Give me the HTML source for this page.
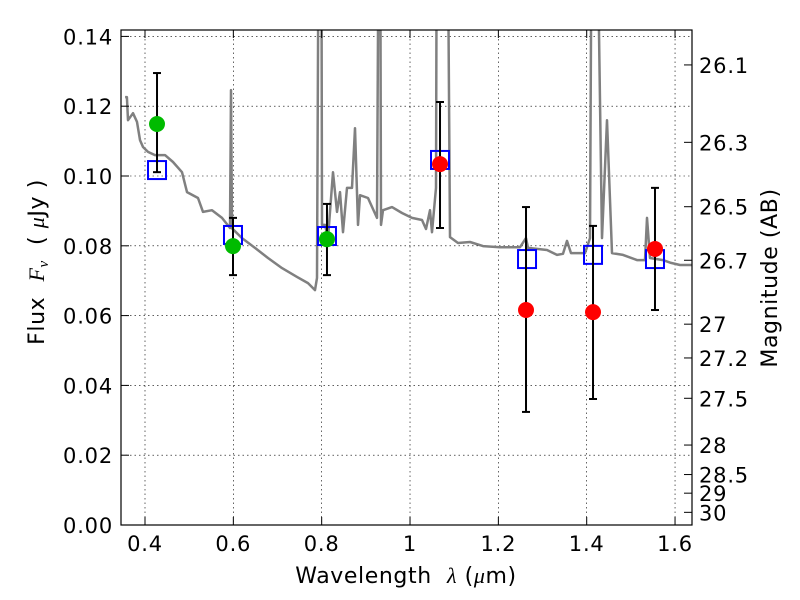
<!DOCTYPE html>
<html><head><meta charset="utf-8"><style>
html,body{margin:0;padding:0;background:#fff;}
svg{display:block;font-family:"DejaVu Sans","Liberation Sans",sans-serif;}
text{white-space:pre;}
</style></head><body>
<svg id="chart" width="800" height="600" viewBox="0 0 800 600">
<defs><clipPath id="pc"><rect x="121" y="30" width="571" height="495"/></clipPath></defs>
<rect x="0" y="0" width="800" height="600" fill="#fff"/>
<g id="grid"></g>
<g id="spec" clip-path="url(#pc)"></g>
<g id="marks" clip-path="url(#pc)"></g>
<rect x="121" y="30" width="571" height="495" fill="none" stroke="#000" stroke-width="1.2"/>
<g id="axes"></g>
<text x="406" y="583" font-size="22" letter-spacing="0.6" text-anchor="middle">Wavelength  <tspan font-family="Liberation Serif,serif" font-style="italic">λ</tspan> (<tspan font-family="Liberation Serif,serif" font-style="italic">μ</tspan>m)</text>
<text transform="translate(44,262) rotate(-90)" font-size="22" letter-spacing="0.6" text-anchor="middle">Flux  <tspan font-family="Liberation Serif,serif" font-style="italic">F<tspan font-size="15" dy="4">ν</tspan></tspan><tspan dy="-4">  ( </tspan><tspan font-family="Liberation Serif,serif" font-style="italic">μ</tspan>Jy )</text>
<text transform="translate(777,278) rotate(-90)" font-size="22" letter-spacing="0.6" text-anchor="middle">Magnitude (AB)</text>
</svg>
<script>
const specWl=[0.355,0.359,0.3615,0.3728,0.3819,0.3887,0.3955,0.4068,0.4226,0.4453,0.4634,0.4838,0.4951,0.52,0.5313,0.5517,0.5743,0.5924,0.5947,0.597,0.6196,0.649,0.6785,0.7102,0.7441,0.769,0.7849,0.7894,0.7939,0.799,0.8007,0.8075,0.8143,0.8256,0.8347,0.8415,0.8483,0.8573,0.8686,0.8754,0.8822,0.8868,0.9049,0.9253,0.93,0.932,0.9343,0.9388,0.9592,0.9818,1.0045,1.0271,1.0362,1.0453,1.0498,1.0589,1.061,1.084,1.0906,1.1087,1.1358,1.1652,1.2037,1.249,1.2626,1.2671,1.3101,1.3328,1.3464,1.3554,1.3645,1.3962,1.4075,1.412,1.421,1.4347,1.446,1.4573,1.4822,1.5139,1.532,1.5365,1.5433,1.5728,1.5909,1.6113,1.638];
const specFlux=[0.1226,0.1226,0.116,0.118,0.1155,0.1103,0.1083,0.1069,0.106,0.106,0.104,0.1011,0.0954,0.0937,0.0897,0.0902,0.088,0.0851,0.1246,0.085,0.0822,0.0794,0.0765,0.0736,0.0711,0.0693,0.0673,0.0708,0.2,0.2,0.086,0.086,0.0822,0.1011,0.0897,0.0954,0.0839,0.0966,0.0966,0.1137,0.086,0.0945,0.0937,0.088,0.2,0.2,0.086,0.0902,0.0911,0.0894,0.088,0.0874,0.0848,0.0902,0.0839,0.0966,0.2,0.2,0.0825,0.0808,0.0811,0.0799,0.0796,0.0796,0.0822,0.0794,0.0788,0.0774,0.0777,0.0814,0.0779,0.0779,0.0822,0.2,0.2,0.0822,0.116,0.0779,0.0774,0.0759,0.0759,0.088,0.0765,0.0759,0.0751,0.0745,0.0745];
const modelWl=[0.4272,0.5992,0.812,1.0679,1.2649,1.4143,1.5546];
const modelFlux=[0.1017,0.0831,0.0828,0.1046,0.0762,0.0774,0.0762];
const greenWl=[0.4272,0.5992,0.812];
const greenFlux=[0.1149,0.0799,0.0819];
const greenLo=[0.1011,0.0716,0.0716];
const greenHi=[0.1295,0.088,0.092];
const redWl=[1.0679,1.2626,1.4143,1.5546];
const redFlux=[0.1034,0.0616,0.061,0.0791];
const redLo=[0.0851,0.0324,0.0361,0.0616];
const redHi=[0.1212,0.0911,0.0857,0.0966];
const xTicks=[0.4,0.6,0.8,1.0,1.2,1.4,1.6];
const xTickLabels=["0.4","0.6","0.8","1","1.2","1.4","1.6"];
const yTicks=[0,0.02,0.04,0.06,0.08,0.10,0.12,0.14];
const yTickLabels=["0.00","0.02","0.04","0.06","0.08","0.10","0.12","0.14"];
const magTicks=[26.1,26.3,26.5,26.7,27,27.2,27.5,28,28.5,29,30];
const magLabels=["26.1","26.3","26.5","26.7","27","27.2","27.5","28","28.5","29","30"];

const NS="http://www.w3.org/2000/svg";
const X=v=>145+(v-0.4)*441.7;
const Y=v=>525-v*3490;
function mk(parent,tag,attrs){const e=document.createElementNS(NS,tag);for(const k in attrs)e.setAttribute(k,attrs[k]);document.getElementById(parent).appendChild(e);return e;}
const FS=21, LS=0.8;
xTicks.forEach((t,i)=>{
  const g=mk('grid','line',{x1:X(t),x2:X(t),y1:30,y2:525,stroke:'#000','stroke-width':0.6,'stroke-dasharray':'1.5,3'});
  
  
  mk('axes','line',{x1:X(t),x2:X(t),y1:525,y2:517,stroke:'#000'});
  mk('axes','line',{x1:X(t),x2:X(t),y1:30,y2:38,stroke:'#000'});
  const l=mk('axes','text',{x:X(t),y:551,'font-size':FS,'letter-spacing':LS,'text-anchor':'middle'});
  l.textContent=xTickLabels[i];
  
  
});
yTicks.forEach((t,i)=>{
  const g=mk('grid','line',{x1:121,x2:692,y1:Y(t),y2:Y(t),stroke:'#000','stroke-width':0.6,'stroke-dasharray':'1.5,3'});
  
  
  mk('axes','line',{x1:121,x2:129,y1:Y(t),y2:Y(t),stroke:'#000'});
  const l=mk('axes','text',{x:113,y:Y(t)+8,'font-size':FS,'letter-spacing':LS,'text-anchor':'end'});
  l.textContent=yTickLabels[i];
  
  
});
magTicks.forEach((m,i)=>{
  const y=Y(Math.pow(10,(23.9-m)/2.5));
  mk('axes','line',{x1:684,x2:692,y1:y,y2:y,stroke:'#000'});
  const l=mk('axes','text',{x:699,y:y+8,'font-size':FS,'letter-spacing':LS});
  l.textContent=magLabels[i];
  
  
});

const pts=specWl.map((w,i)=>X(w).toFixed(1)+','+Y(specFlux[i]).toFixed(1)).join(' ');
const sp=mk('spec','polyline',{points:pts,fill:'none',stroke:'#808080','stroke-width':2.5,'stroke-linejoin':'round'});



function errbar(w,lo,hi){
  const x=X(w);
  mk('marks','line',{x1:x,x2:x,y1:Y(lo),y2:Y(hi),stroke:'#000','stroke-width':2});
  mk('marks','line',{x1:x-4,x2:x+4,y1:Y(lo),y2:Y(lo),stroke:'#000','stroke-width':2});
  mk('marks','line',{x1:x-4,x2:x+4,y1:Y(hi),y2:Y(hi),stroke:'#000','stroke-width':2});
}
modelWl.forEach((w,i)=>{
  const r=mk('marks','rect',{x:X(w)-9,y:Y(modelFlux[i])-9,width:18,height:18,fill:'none',stroke:'#0000ff','stroke-width':2});
  
  
});
greenWl.forEach((w,i)=>{
  errbar(w,greenLo[i],greenHi[i]);
  const c=mk('marks','circle',{cx:X(w),cy:Y(greenFlux[i]),r:8,fill:'#00bb00'});
  
  
});
redWl.forEach((w,i)=>{
  errbar(w,redLo[i],redHi[i]);
  const c=mk('marks','circle',{cx:X(w),cy:Y(redFlux[i]),r:8,fill:'#ff0000'});
  
  
});
</script>
</body></html>
